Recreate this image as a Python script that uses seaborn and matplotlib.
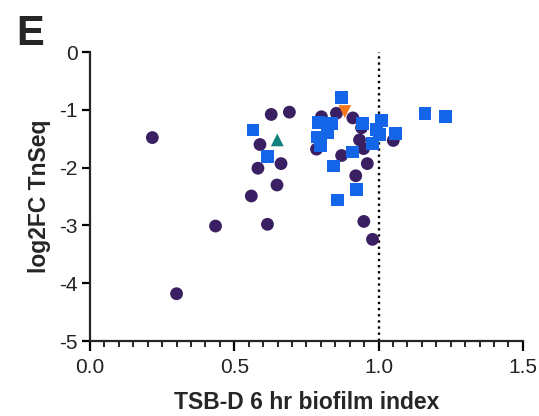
import matplotlib
matplotlib.use("Agg")
import matplotlib.pyplot as plt
import seaborn as sns
import pandas as pd
from matplotlib.ticker import MultipleLocator

# (biofilm index vs log2FC)
circle_x = [0.628, 0.691, 0.802, 0.854, 0.911, 0.941, 0.934, 0.948, 1.051, 0.589,
            0.785, 0.872, 0.961, 0.582, 0.662, 0.648, 0.921, 0.559, 0.615, 0.949,
            0.979, 0.216, 0.435, 0.300]
circle_y = [-1.08, -1.04, -1.12, -1.06, -1.14, -1.31, -1.52, -1.67, -1.53, -1.60,
            -1.68, -1.79, -1.93, -2.01, -1.93, -2.30, -2.14, -2.49, -2.98, -2.93,
            -3.24, -1.48, -3.01, -4.18]
square_x = [0.872, 0.565, 0.791, 0.836, 0.945, 1.009, 0.992, 1.058, 0.787, 0.823,
            0.799, 1.003, 0.979, 0.615, 0.910, 0.844, 0.924, 0.858, 1.161, 1.233]
square_y = [-0.79, -1.35, -1.22, -1.23, -1.23, -1.19, -1.34, -1.41, -1.47, -1.40,
            -1.62, -1.42, -1.58, -1.81, -1.73, -1.97, -2.38, -2.56, -1.07, -1.12]
tri_up_x = [0.649]
tri_up_y = [-1.52]
tri_down_x = [0.883]
tri_down_y = [-1.03]

xticks = [0.0, 0.5, 1.0, 1.5]
yticks = [0, -1, -2, -3, -4, -5]

df = pd.DataFrame({
    "x": circle_x + square_x + tri_up_x + tri_down_x,
    "y": circle_y + square_y + tri_up_y + tri_down_y,
    "group": ["a"] * len(circle_x) + ["b"] * len(square_x)
             + ["c"] * len(tri_up_x) + ["d"] * len(tri_down_x),
})

palette = {"a": "#3a1f62", "b": "#1565e8", "c": "#12807e", "d": "#f5761a"}
markers = {"a": "o", "b": "s", "c": "^", "d": "v"}

sns.set_style("ticks")
plt.rcParams["font.family"] = ["Liberation Sans", "DejaVu Sans"]

fig = plt.figure(figsize=(5.39, 4.16), dpi=100)
ax = fig.add_axes([0.167, 0.180, 0.803, 0.695])

ax.axvline(1.0, color="black", linestyle=(0, (1, 1.6)), linewidth=1.7, zorder=0)

sns.scatterplot(data=df, x="x", y="y", hue="group", style="group",
                palette=palette, markers=markers, s=85, linewidth=0,
                legend=False, ax=ax, zorder=3)

ax.set_xlim(0, 1.5)
ax.set_ylim(-5, 0)
ax.set_xticks(xticks)
ax.set_xticklabels([f"{t:.1f}" for t in xticks])
ax.set_yticks(yticks)
ax.set_yticklabels([str(t) for t in yticks])
ax.xaxis.set_minor_locator(MultipleLocator(0.05))

for s in ["top", "right"]:
    ax.spines[s].set_visible(False)
for s in ["left", "bottom"]:
    ax.spines[s].set_linewidth(1.6)
ax.tick_params(axis="both", which="major", labelsize=15, width=1.6, length=6,
               direction="out", color="black", labelcolor="#222222", pad=3)
ax.tick_params(axis="x", which="major", length=7, pad=5)
ax.tick_params(axis="x", which="minor", width=1.4, length=4)

ax.set_xlabel("TSB-D 6 hr biofilm index", fontsize=16.5, fontweight="bold", labelpad=10)
ax.set_ylabel("log2FC TnSeq", fontsize=16.5, fontweight="bold", labelpad=6)

fig.text(0.030, 0.893, "E", fontsize=30, fontweight="bold")

fig.savefig("out.png", dpi=100)
